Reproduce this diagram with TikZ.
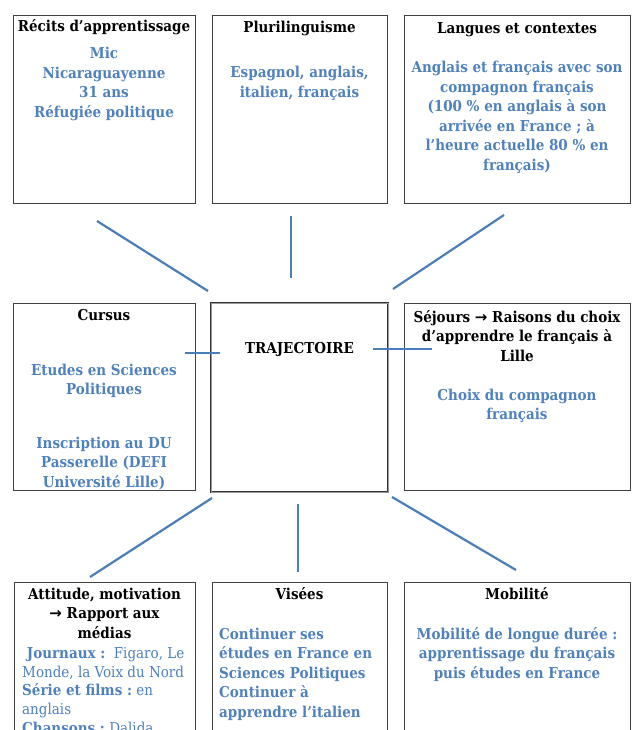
\documentclass[tikz,border=0pt]{standalone}
\usepackage{fontspec}
\setmainfont{DejaVu Serif Condensed}
\newfontfamily\flechefont{DejaVu Sans}
\usepackage{tikz}
\usetikzlibrary{positioning}
\definecolor{bleu}{RGB}{79,129,189}
\definecolor{trait}{RGB}{74,126,187}
\newcommand{\fleche}{{\flechefont\bfseries →}}
\tikzstyle{cadre} = [rectangle, draw=black!75, line width=0.8pt, anchor=north west, inner sep=0pt]
\tikzstyle{titre} = [anchor=north, align=center, inner sep=0pt, font=\fontsize{15}{19.6}\selectfont\bfseries]
\tikzstyle{contenu} = [titre, text=bleu]
\tikzstyle{liaison} = [draw=trait, line width=2.2pt]

\begin{document}
\begin{tikzpicture}[x=1pt, y=-1pt]
  \useasboundingbox (0,0) rectangle (632,730);
  \fill[white] (0,0) rectangle (632,730);
  % rangee du haut
  \node (recits) [cadre, minimum width=182pt, minimum height=188pt] at (13,15) {};
  \node (pluri) [cadre, minimum width=175pt, minimum height=188pt] at (212,15) {};
  \node (langues) [cadre, minimum width=226pt, minimum height=188pt] at (404,15) {};
  \node (recitsT) [titre] at (104,19.5) {Récits d'apprentissage};
  \node (recitsC) [contenu] at (104,47) {Mic\\Nicaraguayenne\\31 ans\\Réfugiée politique};
  \node (pluriT) [titre] at (299.5,21) {Plurilinguisme};
  \node (pluriC) [contenu] at (299.5,66) {Espagnol, anglais,\\italien, français};
  \node (languesT) [titre] at (517,22) {Langues et contextes};
  \node (languesC) [contenu] at (517,61) {Anglais et français avec son\\compagnon français\\(100 \% en anglais à son\\arrivée en France ; à\\l'heure actuelle 80 \% en\\français)};
  % rangee du milieu
  \node (cursus) [cadre, minimum width=182pt, minimum height=187pt] at (13,303) {};
  \node (traj) [cadre, minimum width=177pt, minimum height=189pt, draw=black!80, line width=0.6pt, double=black!40, double distance=0.9pt] at (211,303) {};
  \node (sejours) [cadre, minimum width=226pt, minimum height=187pt] at (404,303) {};
  \node (cursusT) [titre] at (104,309) {Cursus};
  \node (cursusC) [contenu] at (104,363.5) {Etudes en Sciences\\Politiques};
  \node (cursusD) [contenu] at (104,436.5) {Inscription au DU\\Passerelle (DEFI\\Université Lille)};
  \node (trajT) [titre] at (299.5,342.5) {TRAJECTOIRE};
  \node (sejoursT) [titre] at (517,310) {Séjours \fleche{} Raisons du choix\\d'apprendre le français à\\Lille};
  \node (sejoursC) [contenu] at (517,388.5) {Choix du compagnon\\français};
  % rangee du bas
  \node (attitude) [cadre, minimum width=181pt, minimum height=170pt] at (14,582) {};
  \node (visees) [cadre, minimum width=175pt, minimum height=170pt] at (212,582) {};
  \node (mobilite) [cadre, minimum width=226pt, minimum height=170pt] at (404,582) {};
  \node (attitudeT) [titre] at (104.5,587.5) {Attitude, motivation\\\fleche{} Rapport aux\\médias};
  \node (attitudeC) [contenu, anchor=north west, align=left, font=\fontsize{15}{18.8}\selectfont\bfseries] at (22,647) {\ Journaux :\mdseries\ \ Figaro, Le\\\mdseries Monde, la Voix du Nord\\Série et films :\mdseries\ en\\\mdseries anglais\\Chansons :\mdseries\ Dalida};
  \node (viseesT) [titre] at (299.5,587) {Visées};
  \node (viseesC) [contenu, anchor=north west, align=left] at (219,627.5) {Continuer ses\\études en France en\\Sciences Politiques\\Continuer à\\apprendre l'italien};
  \node (mobiliteT) [titre] at (517,587) {Mobilité};
  \node (mobiliteC) [contenu] at (517,627) {Mobilité de longue durée :\\apprentissage du français\\puis études en France};
  % extremites des traits
  \coordinate (h1) at (97,221);   \coordinate (t1) at (208,291);
  \coordinate (h2) at (291,216);  \coordinate (t2) at (291,278);
  \coordinate (h3) at (504,215);  \coordinate (t3) at (393,289);
  \coordinate (g1) at (185,353);  \coordinate (g2) at (220,353);
  \coordinate (d1) at (373,349);  \coordinate (d2) at (432,349);
  \coordinate (b1) at (90,577);   \coordinate (u1) at (212,498);
  \coordinate (b2) at (298,572);  \coordinate (u2) at (298,504);
  \coordinate (b3) at (516,570);  \coordinate (u3) at (392,497);
  \draw [liaison] (h1) -- (t1);
  \draw [liaison] (h2) -- (t2);
  \draw [liaison] (h3) -- (t3);
  \draw [liaison] (g1) -- (g2);
  \draw [liaison] (d1) -- (d2);
  \draw [liaison] (u1) -- (b1);
  \draw [liaison] (u2) -- (b2);
  \draw [liaison] (u3) -- (b3);
\end{tikzpicture}
\end{document}
